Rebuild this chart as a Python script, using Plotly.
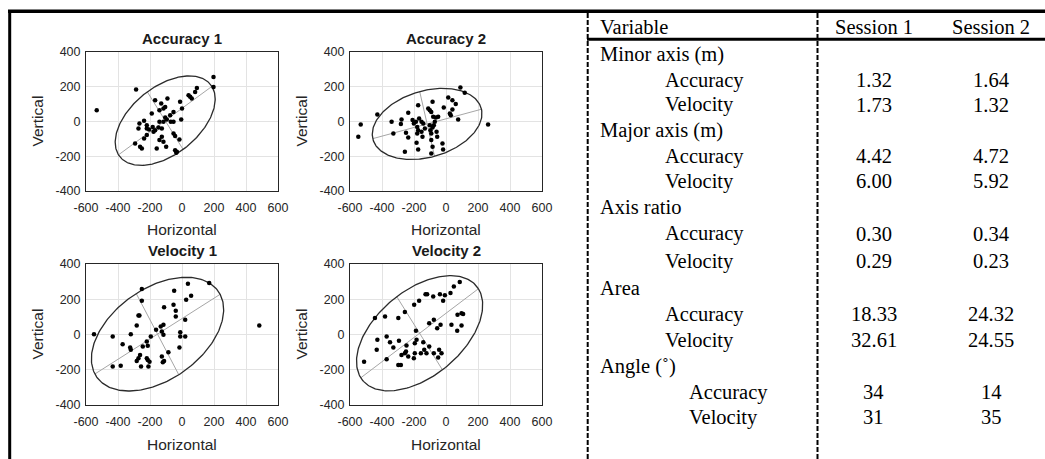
import numpy as np
import plotly.graph_objects as go

W, H = 1045, 459

# ---------------- scatter data ----------------
panel_titles = ["Accuracy 1", "Accuracy 2", "Velocity 1", "Velocity 2"]

acc1_x = [-533, -287, 197, 197, 93, 82, 51, 41, 61, -12, -91, -168, -130, -105, -116, -141, -53, 0,
          -189, -237, -266, -272, -220, -206, -183, -168, -147, -126, -141, -116, -95, -70, -53, -5,
          -105, -74, -220, -237, -293, -262, -251, -158, -141, -116, -99, -126, -53, -43, -16, -43,
          -36, -32, -220, -178]
acc1_y = [65, 184, 256, 199, 193, 170, 142, 151, 132, 113, 132, 122, 103, 84, 75, 65, 55, 75,
          46, 4, -11, -40, -40, -46, -31, -50, -34, -40, -2, -2, 11, -2, -2, 11,
          23, 36, -78, -98, -126, -145, -155, -155, -107, -117, -145, -88, -69, -84, -103, -165,
          -180, -174, -21, -59]

acc2_x = [-548, -533, -429, -340, -329, -278, -282, -257, -250, -236, -236, -209, -201, -188, -180,
          -174, -180, -184, -174, -174, -168, -153, -142, -147, -111, -101, -84, -92, -80, -101,
          -97, -92, -84, -76, -70, -63, -59, -55, -92, -84, -92, -49, -22, -18, -14, 14, 24, 30,
          40, 40, 61, 76, 90, 117, 263, -132, -153]
acc2_y = [-88, -17, 40, -2, -69, 11, -15, -174, -65, 50, -92, 8, -11, -2, -31,
          -50, -69, -122, -161, 94, 17, -2, -11, -88, 75, 65, 113, 55, 27, -21,
          -50, -69, -34, -21, -2, 23, -59, -88, -107, -145, -184, 27, -126, -161, 80, 138, 46, 36,
          122, 69, 100, 11, 195, 165, -17, -40, -59]

vel1_x = [-550, -433, -433, -383, -371, -320, -324, -320, -283, -283, -272, -266, -262, -272, -251,
          -251, -256, -245, -220, -214, -220, -214, -203, -210, -195, -162, -133, -116, -126, -116,
          -126, -120, -112, -112, -85, -49, -53, -39, -39, -11, -11, -16, 20, 20, 26, 37, 57, 170, 483]
vel1_y = [2, -11, -182, -178, -55, 2, -74, -87, 51, -150, 108, 108, -116, -135, 258,
          191, -182, -68, -40, -64, -135, -144, -154, -182, -11, 27, 45, 55, 17, -2,
          -125, -157, -150, 154, -100, 248, 169, 135, 102, 13, -11, -74, -11, 83, 197, 288, 220, 292, 51]

vel2_x = [-512, -444, -429, -433, -381, -371, -371, -350, -329, -298, -294, -298, -282, -278, -257,
          -247, -250, -257, -236, -201, -199, -195, -188, -184, -195, -168, -157, -142, -136, -128,
          -118, -122, -105, -105, -80, -76, -76, -55, -49, -38, -34, -43, -28, -18, -7, 28, 34, 49,
          70, 72, 86, 97, 107, 97]
vel2_y = [-154, 93, -30, -87, 102, -11, -140, -44, -74, 93, -36, -173, -173, -116, 127,
          -63, -97, -106, -125, -135, 169, -49, 21, -30, -106, 191, -106, -44, -87, 229,
          229, -106, 64, -68, 216, 83, -106, 36, -131, 229, 55, -87, -106, 191, 222, 235, 55, 273,
          21, 112, 298, 121, 116, 51]

xs = [acc1_x, acc2_x, vel1_x, vel2_x]
ys = [acc1_y, acc2_y, vel1_y, vel2_y]

# confidence ellipse parameters: centre, semi-axes, angle (deg)
ell_cx = [-105, -118, -153, -165]
ell_cy = [5, -14, 2, 7]
ell_a = [352, 350, 452, 446]
ell_b = [200, 192, 266, 252]
ell_ang = [34, 14, 30, 34.5]

x_ticks = [-600, -400, -200, 0, 200, 400, 600]
y_ticks = [-400, -200, 0, 200, 400]

# ---------------- table data ----------------
tbl_header = ["Variable", "Session 1", "Session 2"]
tbl_groups = ["Minor axis (m)", "Major axis (m)", "Axis ratio", "Area", "Angle (\u02da)"]
tbl_sub = ["Accuracy", "Velocity"]
s1_accuracy = ["1.32", "4.42", "0.30", "18.33", "34"]
s1_velocity = ["1.73", "6.00", "0.29", "32.61", "31"]
s2_accuracy = ["1.64", "4.72", "0.34", "24.32", "14"]
s2_velocity = ["1.32", "5.92", "0.23", "24.55", "35"]

# ---------------- layout geometry (pixels) ----------------
boxes = [(86, 278, 52, 191), (350, 542, 52, 191), (86, 278, 264, 405), (350, 542, 264, 405)]

def px(x):
    return x / W

def py(y):
    return 1 - y / H

fig = go.Figure()
SANS = "Liberation Sans, Arial, sans-serif"
SERIF = "Liberation Serif, Times New Roman, serif"

annotations = []
shapes = []

for i in range(4):
    sfx = "" if i == 0 else str(i + 1)
    xa, ya = "x" + sfx, "y" + sfx
    phi = np.deg2rad(ell_ang[i])
    t = np.linspace(0, 2 * np.pi, 241)
    ex = ell_cx[i] + ell_a[i] * np.cos(t) * np.cos(phi) - ell_b[i] * np.sin(t) * np.sin(phi)
    ey = ell_cy[i] + ell_a[i] * np.cos(t) * np.sin(phi) + ell_b[i] * np.sin(t) * np.cos(phi)
    # major / minor axes
    mx = [ell_cx[i] - ell_a[i] * np.cos(phi), ell_cx[i] + ell_a[i] * np.cos(phi), None,
          ell_cx[i] + ell_b[i] * np.sin(phi), ell_cx[i] - ell_b[i] * np.sin(phi)]
    my = [ell_cy[i] - ell_a[i] * np.sin(phi), ell_cy[i] + ell_a[i] * np.sin(phi), None,
          ell_cy[i] - ell_b[i] * np.cos(phi), ell_cy[i] + ell_b[i] * np.cos(phi)]
    fig.add_trace(go.Scatter(x=mx, y=my, mode="lines", xaxis=xa, yaxis=ya,
                             line=dict(color="#a6a6a6", width=1), hoverinfo="skip"))
    fig.add_trace(go.Scatter(x=ex, y=ey, mode="lines", xaxis=xa, yaxis=ya,
                             line=dict(color="#2b2b2b", width=1.3), hoverinfo="skip"))
    fig.add_trace(go.Scatter(x=xs[i], y=ys[i], mode="markers", xaxis=xa, yaxis=ya,
                             marker=dict(color="black", size=4.5)))

    x0, x1, y0, y1 = boxes[i]
    axcommon = dict(showline=True, mirror=True, linecolor="#262626", linewidth=1,
                    showgrid=True, gridcolor="#e3e3e3", gridwidth=1, zeroline=False,
                    automargin=False, ticks="",
                    tickfont=dict(family=SANS, size=12.5, color="#262626"))
    fig.layout["xaxis" + sfx] = dict(domain=[px(x0), px(x1)], anchor=ya, range=[-600, 600],
                                     tickvals=x_ticks, ticktext=[str(v) for v in x_ticks],
                                     ticklabelstandoff=5, **axcommon)
    fig.layout["yaxis" + sfx] = dict(domain=[py(y1), py(y0)], anchor=xa, range=[-400, 400],
                                     tickvals=y_ticks, ticktext=[str(v) for v in y_ticks],
                                     ticklabelstandoff=2, **axcommon)
    cx = (x0 + x1) / 2
    cy = (y0 + y1) / 2
    annotations.append(dict(text="<b>" + panel_titles[i] + "</b>", x=px(cx), y=py(y0 - 14),
                            xref="paper", yref="paper", showarrow=False, xanchor="center",
                            yanchor="middle", font=dict(family=SANS, size=15, color="#1a1a1a")))
    annotations.append(dict(text="Horizontal", x=px(cx), y=py(y1 + 39), xref="paper", yref="paper",
                            showarrow=False, xanchor="center", yanchor="middle",
                            font=dict(family=SANS, size=15.5, color="#262626")))
    annotations.append(dict(text="Vertical", x=px(x0 - 49), y=py(cy), xref="paper", yref="paper",
                            showarrow=False, xanchor="center", yanchor="middle", textangle=-90,
                            font=dict(family=SANS, size=15.5, color="#262626")))

# ---------------- table ----------------
TFONT = dict(family=SERIF, size=20.5, color="black")
col_lbl0, col_lbl1, col_lbl2 = 598, 663, 687
col_s1, col_s2 = 874, 991
header_y = 27
row_y = [55, 80, 105, 130, 156, 181, 207, 234, 261, 288, 314, 340, 366, 392, 417]

annotations.append(dict(text=tbl_header[0], x=px(col_lbl0), y=py(header_y), xanchor="left"))
annotations.append(dict(text=tbl_header[1], x=px(col_s1), y=py(header_y), xanchor="center"))
annotations.append(dict(text=tbl_header[2], x=px(col_s2), y=py(header_y), xanchor="center"))
r = 0
for g in range(len(tbl_groups)):
    annotations.append(dict(text=tbl_groups[g], x=px(col_lbl0), y=py(row_y[r]), xanchor="left"))
    r += 1
    sub_x = col_lbl2 if g == len(tbl_groups) - 1 else col_lbl1
    vals = [(s1_accuracy[g], s2_accuracy[g]), (s1_velocity[g], s2_velocity[g])]
    for k in range(2):
        annotations.append(dict(text=tbl_sub[k], x=px(sub_x), y=py(row_y[r]), xanchor="left"))
        annotations.append(dict(text=vals[k][0], x=px(col_s1), y=py(row_y[r]), xanchor="center"))
        annotations.append(dict(text=vals[k][1], x=px(col_s2), y=py(row_y[r]), xanchor="center"))
        r += 1

for a in annotations:
    if "font" not in a:
        a.update(xref="paper", yref="paper", showarrow=False, yanchor="middle", font=TFONT)

# table / frame lines
def hline(y, xa, xb, w):
    shapes.append(dict(type="line", xref="paper", yref="paper", x0=px(xa), x1=px(xb),
                       y0=py(y), y1=py(y), line=dict(color="black", width=w)))

def vline(x, ya, yb, w, dash="solid"):
    shapes.append(dict(type="line", xref="paper", yref="paper", x0=px(x), x1=px(x),
                       y0=py(ya), y1=py(yb), line=dict(color="black", width=w, dash=dash)))

vline(9.7, 10, 460, 3)
hline(11.3, 8, 1046, 3.5)
hline(39.2, 587, 1046, 3)
vline(587.7, 13, 460, 2, "5px,2px")
vline(817.5, 13, 460, 2, "5px,2px")

fig.update_layout(template="none", width=W, height=H,
                  margin=dict(l=0, r=0, t=0, b=0, pad=0, autoexpand=False),
                  paper_bgcolor="white", plot_bgcolor="white", showlegend=False,
                  hovermode=False,
                  annotations=annotations, shapes=shapes)

fig.write_html("out.html", config={"displayModeBar": False, "staticPlot": True},
               post_script="document.body.style.margin='0';document.body.style.overflow='hidden';")
